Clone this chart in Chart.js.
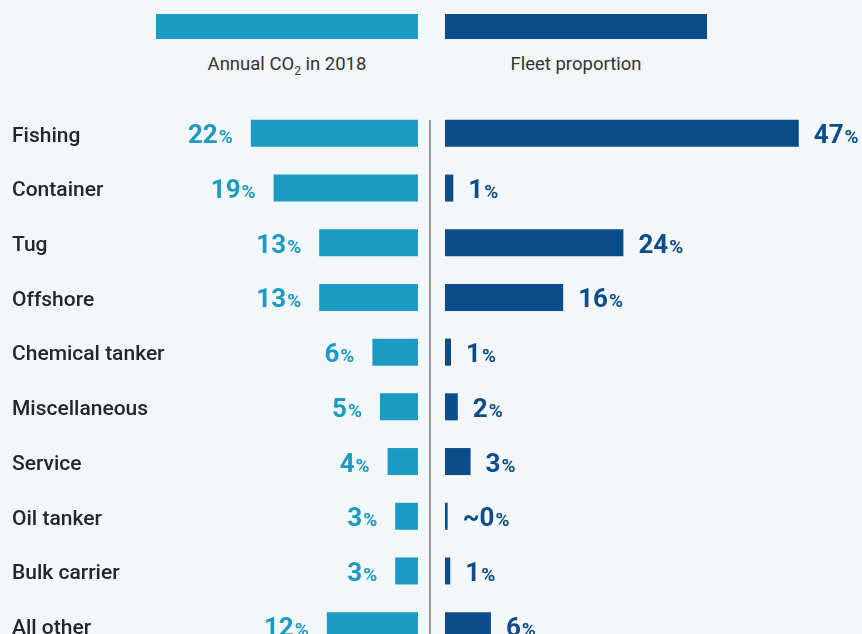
<!DOCTYPE html>
<html>
<head>
<meta charset="utf-8">
<title>CO2 vs fleet by ship type</title>
<script src="https://cdn.jsdelivr.net/npm/chart.js@4.4.0/dist/chart.umd.min.js"></script>
<style>
  html, body { margin: 0; padding: 0; }
  body {
    width: 862px; height: 634px; overflow: hidden; position: relative;
    background: #f3f7fa; font-family: Roboto, "Noto Sans", sans-serif;
  }
  .swatch { position: absolute; top: 14px; width: 262px; height: 25px; }
  .legend-text {
    position: absolute; top: 53px; width: 262px; text-align: center;
    font-size: 18.5px; color: #333;
  }
  .legend-text sub { font-size: 12px; }
  .divider { position: absolute; left: 429px; top: 120px; width: 2px; height: 520px; background: #9a9a9a; }
  .wrap { position: absolute; top: 106px; }
</style>
</head>
<body>
<div class="swatch" id="swCo2" style="left:156px"></div>
<div class="legend-text" id="lgCo2" style="left:156px"></div>
<div class="swatch" id="swFleet" style="left:445px"></div>
<div class="legend-text" id="lgFleet" style="left:445px"></div>
<div class="divider"></div>
<div class="wrap" style="left:12px"><canvas id="leftChart" width="406" height="547"></canvas></div>
<div class="wrap" style="left:445px"><canvas id="rightChart" width="417" height="547"></canvas></div>

<script>
// ship types, top to bottom
const shipTypes = ['Fishing', 'Container', 'Tug', 'Offshore', 'Chemical tanker',
                   'Miscellaneous', 'Service', 'Oil tanker', 'Bulk carrier', 'All other'];

// share of annual CO2 emissions in 2018 (%)
const co2Share = [22, 19, 13, 13, 6, 5, 4, 3, 3, 12];
const co2Text  = ['22', '19', '13', '13', '6', '5', '4', '3', '3', '12'];

// share of the fleet (%)
const fleetShare = [47, 1.1, 23.7, 15.7, 0.8, 1.7, 3.4, 0.35, 0.7, 6.1];
const fleetText  = ['47', '1', '24', '16', '1', '2', '3', '~0', '1', '6'];

const seriesNames = ['Annual CO<sub>2</sub> in 2018', 'Fleet proportion'];

const co2Color = '#1b9ac4';
const fleetColor = '#0a4d8a';

Chart.defaults.font.family = 'Roboto';
Chart.defaults.animation = false;

// legend (html)
document.getElementById('swCo2').style.background = co2Color;
document.getElementById('swFleet').style.background = fleetColor;
document.getElementById('lgCo2').innerHTML = seriesNames[0];
document.getElementById('lgFleet').innerHTML = seriesNames[1];

// draws "NN%" next to each bar, number big and % a bit smaller
const valueLabels = {
    id: 'valueLabels',
    afterDatasetsDraw(chart, args, opts) {
        const ctx = chart.ctx;
        const bars = chart.getDatasetMeta(0).data;
        bars.forEach((bar, i) => {
            const num = opts.texts[i];
            ctx.save();
            ctx.fillStyle = opts.color;
            ctx.textBaseline = 'alphabetic';
            ctx.textAlign = 'left';
            ctx.font = '700 26px Roboto';
            const w1 = ctx.measureText(num).width;
            ctx.font = '700 19px Roboto';
            const w2 = ctx.measureText('%').width;
            const x = opts.side === 'left' ? bar.x - opts.gap - w1 - w2 - 1 : bar.x + opts.gap;
            const y = bar.y + 10;
            ctx.font = '700 26px Roboto';
            ctx.fillText(num, x, y);
            ctx.font = '700 19px Roboto';
            ctx.fillText('%', x + w1 + 1, y);
            ctx.restore();
        });
    }
};

const leftChart = new Chart(document.getElementById('leftChart'), {
    type: 'bar',
    data: {
        labels: shipTypes,
        datasets: [{
            data: co2Share,
            backgroundColor: co2Color,
            categoryPercentage: 1,
            barPercentage: 0.494
        }]
    },
    options: {
        indexAxis: 'y',
        responsive: false,
        plugins: {
            legend: { display: false },
            tooltip: { enabled: false },
            valueLabels: { texts: co2Text, color: co2Color, side: 'left', gap: 18 }
        },
        scales: {
            x: { display: false, reverse: true, min: 0, max: 30 },
            y: {
                grid: { display: false },
                border: { display: false },
                ticks: {
                    crossAlign: 'far',
                    labelOffset: 3,
                    color: '#262626',
                    font: { size: 21, weight: '500' }
                },
                afterFit: scale => {
                    scale.width = 178;
                    // keep the rows aligned with the right-hand chart
                    scale.paddingTop = 0;
                    scale.paddingBottom = 0;
                }
            }
        }
    },
    plugins: [valueLabels]
});

const rightChart = new Chart(document.getElementById('rightChart'), {
    type: 'bar',
    data: {
        labels: shipTypes,
        datasets: [{
            data: fleetShare,
            backgroundColor: fleetColor,
            categoryPercentage: 1,
            barPercentage: 0.494
        }]
    },
    options: {
        indexAxis: 'y',
        responsive: false,
        layout: { padding: { right: 3 } },
        plugins: {
            legend: { display: false },
            tooltip: { enabled: false },
            valueLabels: { texts: fleetText, color: fleetColor, side: 'right', gap: 15 }
        },
        scales: {
            x: { display: false, min: 0, max: 55 },
            y: { display: false }
        }
    },
    plugins: [valueLabels]
});
</script>
</body>
</html>
